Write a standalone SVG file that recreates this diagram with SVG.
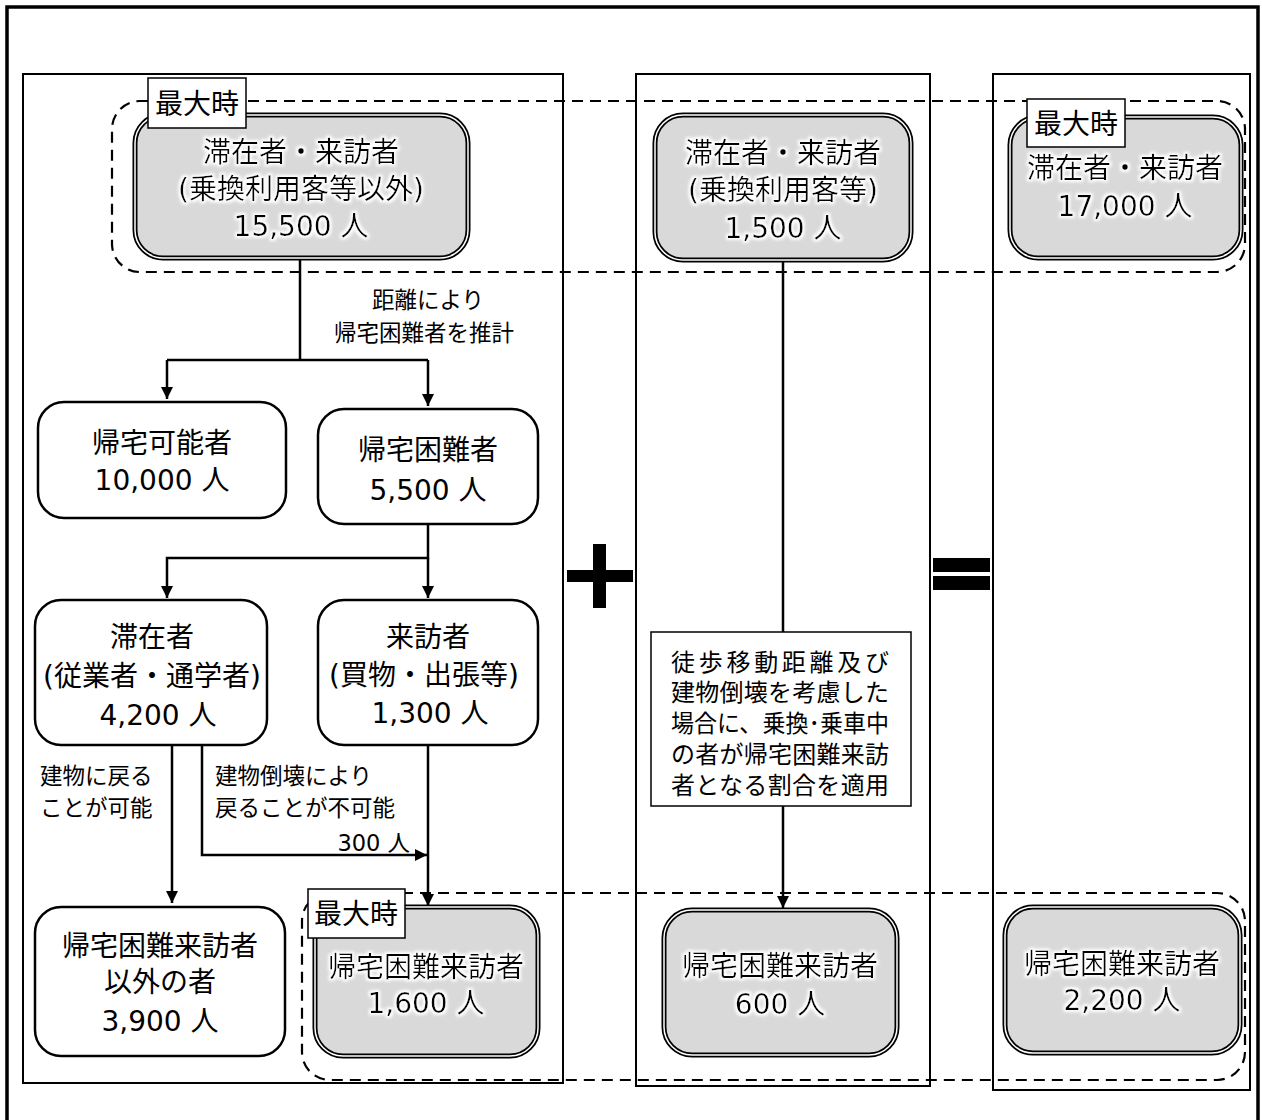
<svg xmlns="http://www.w3.org/2000/svg" width="1262" height="1120" viewBox="0 0 1262 1120">
<defs>
<style>
text{font-family:"DejaVu Sans","Noto Sans CJK JP",sans-serif;fill:#000}
.t{font-size:28px;text-anchor:middle;dominant-baseline:central}
.s{font-size:22.5px;dominant-baseline:central}
.n{font-size:24px;dominant-baseline:central}
.col{fill:none;stroke:#000;stroke-width:2}
.box{fill:#fff;stroke:#000;stroke-width:2.5}
.g1{fill:#d9d9d9;stroke:#000;stroke-width:5}
.g2{fill:none;stroke:#fff;stroke-width:1.5}
.lbl{fill:#fff;stroke:#000;stroke-width:1.5}
.dash{fill:none;stroke:#000;stroke-width:2.2;stroke-dasharray:11 7}
.ln{fill:none;stroke:#000;stroke-width:2.5}
.gl{filter:url(#glow)}
</style>
<marker id="ah" viewBox="0 0 10 10" refX="10" refY="5" markerWidth="5" markerHeight="5" orient="auto" markerUnits="strokeWidth">
<path d="M0,0 L10,5 L0,10 z" fill="#000"/>
</marker>
<filter id="glow" x="-10%" y="-30%" width="120%" height="160%">
<feMorphology in="SourceAlpha" operator="dilate" radius="1.5" result="d"/>
<feGaussianBlur in="d" stdDeviation="1.5" result="b"/>
<feFlood flood-color="#fff"/>
<feComposite in2="b" operator="in" result="w"/>
<feMerge><feMergeNode in="w"/><feMergeNode in="SourceGraphic"/></feMerge>
</filter>
</defs>
<rect width="1262" height="1120" fill="#fff"/>
<rect x="7" y="7" width="1251" height="1130" fill="none" stroke="#000" stroke-width="3.5"/>
<g id="columns">
<rect class="col" x="23" y="74" width="540" height="1009"/>
<rect class="col" x="636" y="74" width="294" height="1012"/>
<rect class="col" x="993" y="74" width="257" height="1016"/>
</g>
<g id="regions">
<rect class="dash" x="112" y="101" width="1133" height="171" rx="28"/>
<rect class="dash" x="302" y="893" width="943" height="187" rx="28"/>
</g>
<g id="connectors">
<path class="ln" d="M300,258 V360"/>
<path class="ln" d="M167,360 H428"/>
<path class="ln" d="M167,360 V399" marker-end="url(#ah)"/>
<path class="ln" d="M428,360 V406" marker-end="url(#ah)"/>
<path class="ln" d="M428,524 V558 H167 V598" marker-end="url(#ah)"/>
<path class="ln" d="M428,558 V598" marker-end="url(#ah)"/>
<path class="ln" d="M172,745 V903" marker-end="url(#ah)"/>
<path class="ln" d="M202,745 V855 H427" marker-end="url(#ah)"/>
<path class="ln" d="M428,745 V906" marker-end="url(#ah)"/>
<path class="ln" d="M783,260 V632"/>
<path class="ln" d="M783,806 V908" marker-end="url(#ah)"/>
<text class="s" x="428" y="300" text-anchor="middle">距離により</text>
<text class="s" x="424" y="333" text-anchor="middle">帰宅困難者を推計</text>
<text class="s" x="40" y="776">建物に戻る</text>
<text class="s" x="40" y="808">ことが可能</text>
<text class="s" x="215" y="776">建物倒壊により</text>
<text class="s" x="215" y="808">戻ることが不可能</text>
<text class="s" x="410" y="843" text-anchor="end">300 人</text>
</g>
<g id="ops">
<rect x="567" y="570" width="66" height="12" fill="#000"/>
<rect x="593" y="544" width="13" height="64" fill="#000"/>
<rect x="933" y="558" width="57" height="14" fill="#000"/>
<rect x="933" y="576" width="57" height="14" fill="#000"/>
</g>
<g id="n-total-other">
<rect class="g1" x="135" y="115" width="333" height="143" rx="28"/>
<rect class="g2" x="135" y="115" width="333" height="143" rx="28"/>
<g class="gl">
<text class="t" x="301" y="152">滞在者・来訪者</text>
<text class="t" x="301" y="189">(乗換利用客等以外)</text>
<text class="t" x="301" y="226">15,500 人</text>
</g>
<rect class="lbl" x="148" y="78" width="98" height="50"/>
<text class="t" x="197" y="104">最大時</text>
</g>
<g id="n-total-transfer">
<rect class="g1" x="655" y="115" width="256" height="145" rx="28"/>
<rect class="g2" x="655" y="115" width="256" height="145" rx="28"/>
<g class="gl">
<text class="t" x="783" y="153">滞在者・来訪者</text>
<text class="t" x="783" y="190">(乗換利用客等)</text>
<text class="t" x="783" y="228">1,500 人</text>
</g>
</g>
<g id="n-total-all">
<rect class="g1" x="1010" y="117" width="231" height="141" rx="28"/>
<rect class="g2" x="1010" y="117" width="231" height="141" rx="28"/>
<g class="gl">
<text class="t" x="1125" y="168">滞在者・来訪者</text>
<text class="t" x="1125" y="206">17,000 人</text>
</g>
<rect class="lbl" x="1027" y="99" width="98" height="48"/>
<text class="t" x="1076" y="124">最大時</text>
</g>
<g id="n-can-return">
<rect class="box" x="38" y="402" width="248" height="116" rx="26"/>
<text class="t" x="162" y="443">帰宅可能者</text>
<text class="t" x="162" y="480">10,000 人</text>
</g>
<g id="n-difficult">
<rect class="box" x="318" y="409" width="220" height="115" rx="26"/>
<text class="t" x="428" y="450">帰宅困難者</text>
<text class="t" x="428" y="490">5,500 人</text>
</g>
<g id="n-stayer">
<rect class="box" x="35" y="600" width="232" height="145" rx="26"/>
<text class="t" x="152" y="637">滞在者</text>
<text class="t" x="152" y="676">(従業者・通学者)</text>
<text class="t" x="158" y="715">4,200 人</text>
</g>
<g id="n-visitor">
<rect class="box" x="318" y="600" width="220" height="145" rx="26"/>
<text class="t" x="428" y="637">来訪者</text>
<text class="t" x="424" y="675">(買物・出張等)</text>
<text class="t" x="430" y="713">1,300 人</text>
</g>
<g id="n-not-difficult">
<rect class="box" x="35" y="907" width="250" height="149" rx="26"/>
<text class="t" x="160" y="946">帰宅困難来訪者</text>
<text class="t" x="160" y="982">以外の者</text>
<text class="t" x="160" y="1021">3,900 人</text>
</g>
<g id="n-difficult-visitor">
<rect class="g1" x="315" y="907" width="223" height="149" rx="28"/>
<rect class="g2" x="315" y="907" width="223" height="149" rx="28"/>
<g class="gl">
<text class="t" x="426" y="967">帰宅困難来訪者</text>
<text class="t" x="426" y="1003">1,600 人</text>
</g>
<rect class="lbl" x="308" y="889" width="97" height="49"/>
<text class="t" x="356" y="914">最大時</text>
</g>
<g id="n-note">
<rect x="651" y="632" width="260" height="174" fill="#fff" stroke="#000" stroke-width="1.5"/>
<text class="n" x="671" y="663" textLength="218" lengthAdjust="spacing">徒歩移動距離及び</text>
<text class="n" x="671" y="693" textLength="218" lengthAdjust="spacing">建物倒壊を考慮した</text>
<text class="n" x="671" y="724" textLength="218" lengthAdjust="spacingAndGlyphs">場合に、乗換･乗車中</text>
<text class="n" x="671" y="755" textLength="218" lengthAdjust="spacing">の者が帰宅困難来訪</text>
<text class="n" x="671" y="786" textLength="218" lengthAdjust="spacing">者となる割合を適用</text>
</g>
<g id="n-transfer-difficult">
<rect class="g1" x="664" y="910" width="233" height="145" rx="28"/>
<rect class="g2" x="664" y="910" width="233" height="145" rx="28"/>
<g class="gl">
<text class="t" x="780" y="966">帰宅困難来訪者</text>
<text class="t" x="780" y="1004">600 人</text>
</g>
</g>
<g id="n-all-difficult">
<rect class="g1" x="1005" y="907" width="235" height="146" rx="28"/>
<rect class="g2" x="1005" y="907" width="235" height="146" rx="28"/>
<g class="gl">
<text class="t" x="1122" y="964">帰宅困難来訪者</text>
<text class="t" x="1122" y="1000">2,200 人</text>
</g>
</g>
</svg>
